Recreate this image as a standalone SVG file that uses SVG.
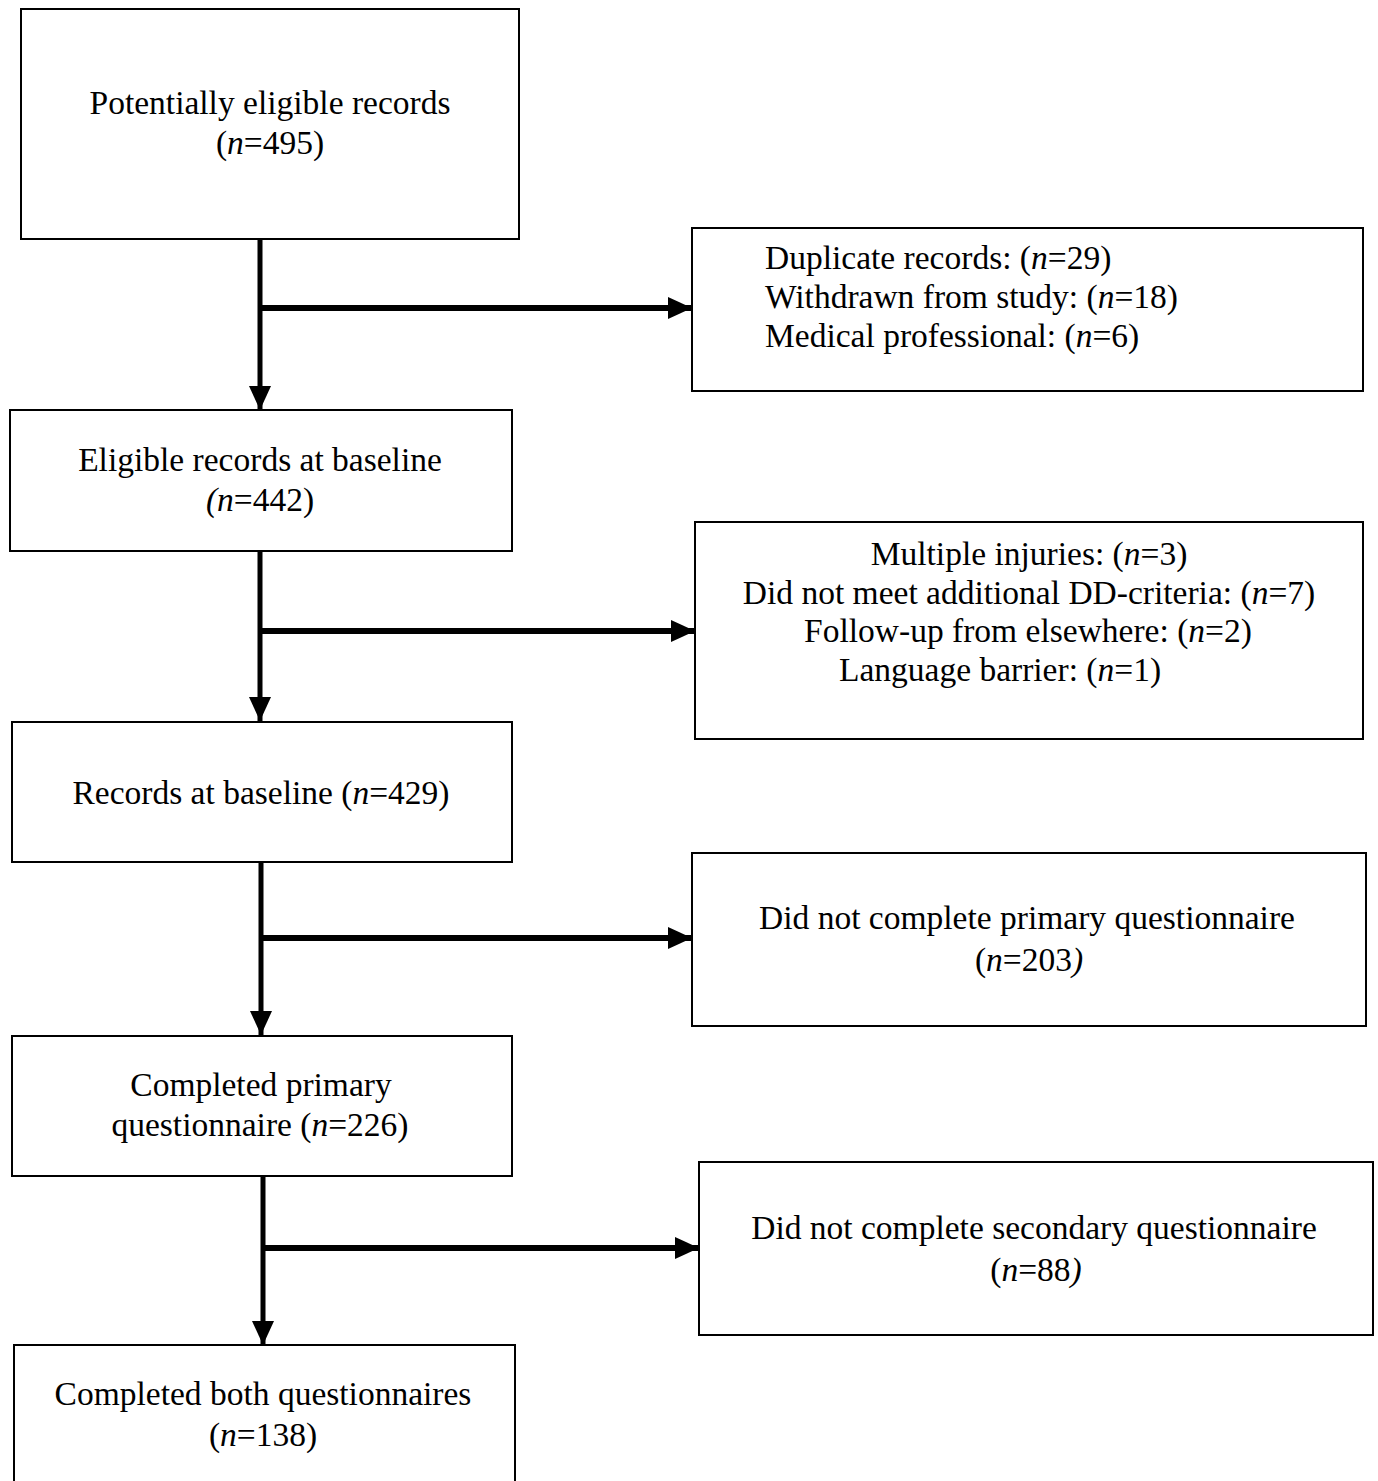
<svg xmlns="http://www.w3.org/2000/svg" width="1378" height="1481" viewBox="0 0 1378 1481">
<style>
.box{fill:#fff;stroke:#000;stroke-width:2}
text{font-family:"Liberation Serif","Times New Roman",serif;font-size:33.5px;fill:#000}
.c{text-anchor:middle}
.i{font-style:italic}
.ln{stroke:#000;fill:none}
.v{stroke-width:5}
.h{stroke-width:6}
</style>
<defs>
<marker id="ah" markerUnits="userSpaceOnUse" markerWidth="24" markerHeight="24" viewBox="0 0 24 24" refX="24" refY="12" orient="auto">
<path d="M0,1 L24,12 L0,23 Z" fill="#000"/>
</marker>
</defs>
<rect width="1378" height="1481" fill="#fff"/>
<g id="connectors">
<line class="ln v" x1="260" y1="239" x2="260" y2="410" marker-end="url(#ah)"/>
<line class="ln h" x1="260" y1="308" x2="692" y2="308" marker-end="url(#ah)"/>
<line class="ln v" x1="260" y1="551" x2="260" y2="721" marker-end="url(#ah)"/>
<line class="ln h" x1="260" y1="631" x2="695" y2="631" marker-end="url(#ah)"/>
<line class="ln v" x1="261" y1="862" x2="261" y2="1035" marker-end="url(#ah)"/>
<line class="ln h" x1="261" y1="938" x2="692" y2="938" marker-end="url(#ah)"/>
<line class="ln v" x1="263" y1="1176" x2="263" y2="1345" marker-end="url(#ah)"/>
<line class="ln h" x1="263" y1="1248" x2="699" y2="1248" marker-end="url(#ah)"/>
</g>
<g id="n1">
<rect class="box" x="21" y="9" width="498" height="230"/>
<text class="c" x="270" y="114">Potentially eligible records</text>
<text class="c" x="270" y="154">(<tspan class="i">n</tspan>=495)</text>
</g>
<g id="e1">
<rect class="box" x="692" y="228" width="671" height="163"/>
<text x="765" y="269">Duplicate records: (<tspan class="i">n</tspan>=29)</text>
<text x="765" y="308">Withdrawn from study: (<tspan class="i">n</tspan>=18)</text>
<text x="765" y="347">Medical professional: (<tspan class="i">n</tspan>=6)</text>
</g>
<g id="n2">
<rect class="box" x="10" y="410" width="502" height="141"/>
<text class="c" x="260" y="471">Eligible records at baseline</text>
<text class="c" x="260" y="511"><tspan class="i">(n</tspan>=442)</text>
</g>
<g id="e2">
<rect class="box" x="695" y="522" width="668" height="217"/>
<text class="c" x="1029" y="565">Multiple injuries: (<tspan class="i">n</tspan>=3)</text>
<text class="c" x="1029" y="604">Did not meet additional DD-criteria: (<tspan class="i">n</tspan>=7)</text>
<text class="c" x="1028" y="642">Follow-up from elsewhere: (<tspan class="i">n</tspan>=2)</text>
<text class="c" x="1000" y="681">Language barrier: (<tspan class="i">n</tspan>=1)</text>
</g>
<g id="n3">
<rect class="box" x="12" y="722" width="500" height="140"/>
<text class="c" x="261" y="804">Records at baseline (<tspan class="i">n</tspan>=429)</text>
</g>
<g id="e3">
<rect class="box" x="692" y="853" width="674" height="173"/>
<text class="c" x="1027" y="929">Did not complete primary questionnaire</text>
<text class="c" x="1029" y="971">(<tspan class="i">n</tspan>=203<tspan class="i">)</tspan></text>
</g>
<g id="n4">
<rect class="box" x="12" y="1036" width="500" height="140"/>
<text class="c" x="261" y="1096">Completed primary</text>
<text class="c" x="260" y="1136">questionnaire (<tspan class="i">n</tspan>=226)</text>
</g>
<g id="e4">
<rect class="box" x="699" y="1162" width="674" height="173"/>
<text class="c" x="1034" y="1239">Did not complete secondary questionnaire</text>
<text class="c" x="1036" y="1281">(<tspan class="i">n</tspan>=88<tspan class="i">)</tspan></text>
</g>
<g id="n5">
<rect class="box" x="14" y="1345" width="501" height="150"/>
<text class="c" x="263" y="1405">Completed both questionnaires</text>
<text class="c" x="263" y="1446">(<tspan class="i">n</tspan>=138)</text>
</g>
</svg>
